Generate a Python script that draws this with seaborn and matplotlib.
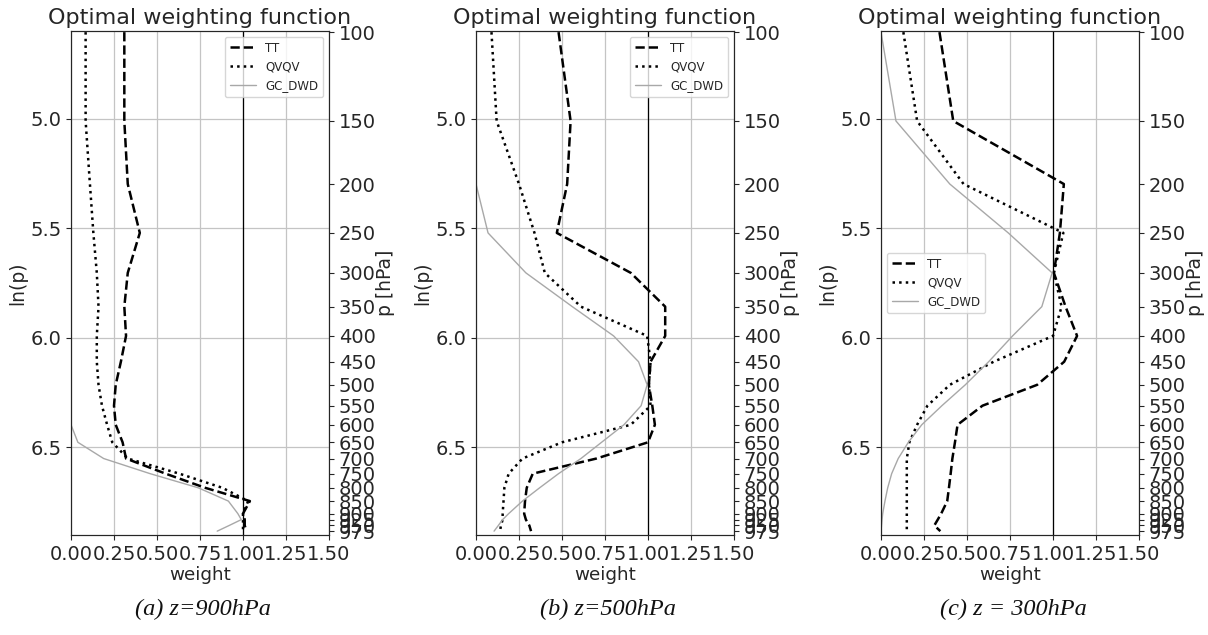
import numpy as np
import matplotlib
matplotlib.use("Agg")
import matplotlib.pyplot as plt
from matplotlib.ticker import FormatStrFormatter
import seaborn as sns

# ---- data ----
levels = [100, 150, 200, 250, 300, 350, 400, 450, 500, 550,
          600, 650, 700, 750, 800, 850, 900, 925, 950, 975]

tt_a = [0.31, 0.31, 0.33, 0.40, 0.33, 0.31, 0.32, 0.29, 0.26, 0.25,
        0.26, 0.30, 0.32, 0.55, 0.78, 1.04, 1.00, 1.01, 1.01, 1.02]
qv_a = [0.085, 0.085, 0.11, 0.13, 0.15, 0.16, 0.15, 0.15, 0.16, 0.18,
        0.21, 0.24, 0.33, 0.63, 0.88, 1.03, 1.00, 1.00, 1.00, 1.00]
gc_a = [0.0, 0.0, 0.0, 0.0, 0.0, 0.0, 0.0, 0.0, 0.0, 0.0,
        0.0, 0.04, 0.19, 0.46, 0.74, 0.915, 0.97, 0.99, 0.92, 0.85]

tt_b = [0.48, 0.55, 0.53, 0.47, 0.90, 1.10, 1.10, 1.015, 1.005, 1.025,
        1.04, 1.00, 0.70, 0.33, 0.295, 0.285, 0.28, 0.29, 0.31, 0.32]
qv_b = [0.09, 0.12, 0.25, 0.34, 0.40, 0.61, 0.995, 1.015, 1.005, 1.015,
        0.90, 0.50, 0.27, 0.19, 0.165, 0.16, 0.155, 0.155, 0.145, 0.14]
gc_b = [0.0, 0.0, 0.0, 0.07, 0.29, 0.56, 0.80, 0.945, 0.995, 0.96,
        0.86, 0.73, 0.61, 0.48, 0.37, 0.27, 0.19, 0.155, 0.13, 0.105]

tt_c = [0.34, 0.42, 1.063, 1.04, 1.005, 1.073, 1.14, 1.065, 0.908, 0.59,
        0.445, 0.43, 0.415, 0.405, 0.395, 0.385, 0.35, 0.33, 0.31, 0.345]
qv_c = [0.13, 0.21, 0.48, 1.06, 1.005, 1.05, 1.0, 0.655, 0.40, 0.27,
        0.21, 0.165, 0.15, 0.15, 0.15, 0.15, 0.15, 0.15, 0.15, 0.15]
gc_c = [0.0, 0.087, 0.40, 0.74, 0.995, 0.935, 0.765, 0.626, 0.49, 0.354,
        0.237, 0.159, 0.10, 0.062, 0.039, 0.023, 0.01, 0.006, 0.003, 0.0]

captions = ["(a) z=900hPa", "(b) z=500hPa", "(c) z = 300hPa"]
legend_locs = ["upper right", "upper right", "center left"]
panels = [(tt_a, qv_a, gc_a), (tt_b, qv_b, gc_b), (tt_c, qv_c, gc_c)]

# ---- style ----
sns.set_style("ticks")
plt.rcParams["font.family"] = ["DejaVu Sans"]

W, H = 1208, 635
fig = plt.figure(figsize=(W / 100, H / 100), dpi=100)
lefts = [71, 476, 881]
aw, ab, ah = 258 / W, 100 / H, 504 / H

lnp = np.log(levels)

for i, (tt, qv, gc) in enumerate(panels):
    ax = fig.add_axes([lefts[i] / W, ab, aw, ah])
    ax.grid(True, color="#c4c4c4", lw=0.9)
    ax.set_axisbelow(True)
    sns.lineplot(x=tt, y=lnp, orient="y", ax=ax, color="k", lw=1.8,
                 linestyle="--", label="TT")
    sns.lineplot(x=qv, y=lnp, orient="y", ax=ax, color="k", lw=1.8,
                 linestyle=":", label="QVQV")
    sns.lineplot(x=gc, y=lnp, orient="y", ax=ax, color="#a8a8a8", lw=1.0,
                 linestyle="-", label="GC_DWD")
    ax.axvline(1.0, color="k", lw=0.9)
    ax.set_xlim(0, 1.5)
    ax.set_ylim(6.9, 4.6)
    ax.set_xticks(np.arange(0, 1.51, 0.25))
    ax.xaxis.set_major_formatter(FormatStrFormatter("%.2f"))
    ax.set_yticks([5.0, 5.5, 6.0, 6.5])
    ax.yaxis.set_major_formatter(FormatStrFormatter("%.1f"))
    ax.tick_params(labelsize=14.0, colors="#262626")
    ax.set_xlabel("weight", fontsize=13.2, labelpad=2)
    ax.set_ylabel("ln(p)", fontsize=13.5, labelpad=2)
    ax.set_title("Optimal weighting function", fontsize=16, pad=5)
    ax.legend(loc=legend_locs[i], fontsize=8.5, handlelength=2.2)
    for sp in ax.spines.values():
        sp.set_color("#333333")

    ax2 = ax.twinx()
    ax2.set_ylim(6.9, 4.6)
    ax2.set_yticks(lnp)
    ax2.set_yticklabels([str(p) for p in levels])
    ax2.tick_params(labelsize=14.0, colors="#262626")
    ax2.set_ylabel("p [hPa]", fontsize=13.5, labelpad=0)
    ax2.grid(False)

    cx = (lefts[i] + 129 + 3) / W
    fig.text(cx, 20 / H, captions[i], ha="center", va="baseline",
             fontsize=17.5, style="italic", family=["Liberation Serif", "DejaVu Serif"],
             color="#111111")

fig.savefig("out.png", dpi=100)
